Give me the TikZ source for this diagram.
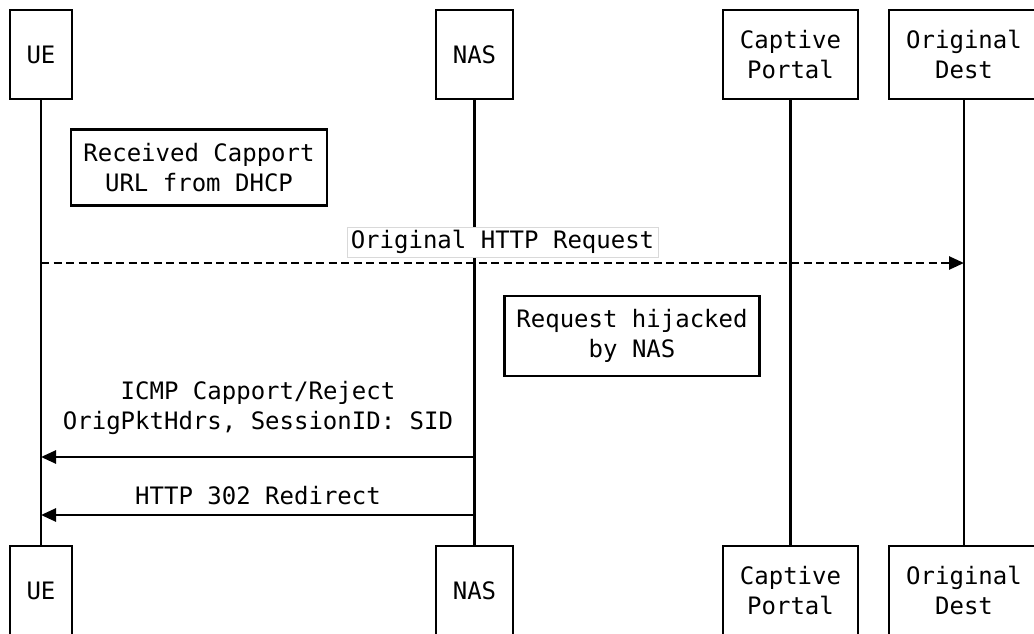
\documentclass[tikz,border=0pt]{standalone}
\usepackage{fontspec}
\newfontfamily\seqmono{DejaVu Sans Mono}
\usetikzlibrary{arrows.meta}
\tikzset{
  seqfont/.style={font=\seqmono\fontsize{24}{29.5}\selectfont},
  actor/.style={draw, line width=2.8pt, fill=white, seqfont, align=center,
    minimum height=89pt, inner sep=0pt},
  notebox/.style={draw, line width=2.8pt, fill=white, seqfont, align=center,
    minimum height=76pt, inner sep=0pt},
  lifeline/.style={line width=2.6pt},
  msg/.style={line width=2.6pt, -{Triangle[length=15pt,width=13pt]}},
  msglabel/.style={seqfont, align=center, inner sep=1pt},
}
\begin{document}
\begin{tikzpicture}[x=1pt,y=-1pt]
\useasboundingbox (0,0) rectangle (1034,634);
\clip (0,0) rectangle (1034,634);

% participants, top row
\node[actor, minimum width=62pt]  (ueT) at (41,54.5)    {UE};
\node[actor, minimum width=77pt]  (nasT) at (474.5,54.5) {NAS};
\node[actor, minimum width=135pt] (cpT) at (790.5,54.5) {Captive\\Portal};
\node[actor, minimum width=150pt] (odT) at (964,54.5)   {Original\\Dest};

% participants, bottom row
\node[actor, minimum width=62pt]  (ueB) at (41,590.5)    {UE};
\node[actor, minimum width=77pt]  (nasB) at (474.5,590.5) {NAS};
\node[actor, minimum width=135pt] (cpB) at (790.5,590.5) {Captive\\Portal};
\node[actor, minimum width=150pt] (odB) at (964,590.5)   {Original\\Dest};

% lifelines
\draw[lifeline] (ueT.south) -- (ueB.north);
\draw[lifeline] (nasT.south) -- (nasB.north);
\draw[lifeline] (cpT.south) -- (cpB.north);
\draw[lifeline] (odT.south) -- (odB.north);

% note on the UE side
\node[notebox, minimum width=256pt] (n1) at (199,167.5)
  {Received Capport\\URL from DHCP};

% original request towards the destination
\coordinate (m1) at (0,263);
\draw[msg, dashed, dash pattern=on 8pt off 4.5pt] (ueT |- m1) -- (odT |- m1);
\node[msglabel, draw=black!15, line width=0.8pt, fill=white,
      minimum width=311pt, minimum height=30pt] (l1) at (502.5,242)
  {Original HTTP Request};

% note next to the NAS
\node[notebox, minimum width=255pt, minimum height=80pt] (n2) at (632,336)
  {Request hijacked\\by NAS};

% ICMP reply from the NAS
\coordinate (m2) at (0,457);
\draw[msg] (nasT |- m2) -- (ueT |- m2);
\node[msglabel] (l2) at (258,408)
  {ICMP Capport/Reject\\OrigPktHdrs, SessionID: SID};

% HTTP redirect from the NAS
\coordinate (m3) at (0,515);
\draw[msg] (nasT |- m3) -- (ueT |- m3);
\node[msglabel] (l3) at (258,496) {HTTP 302 Redirect};
\end{tikzpicture}
\end{document}
